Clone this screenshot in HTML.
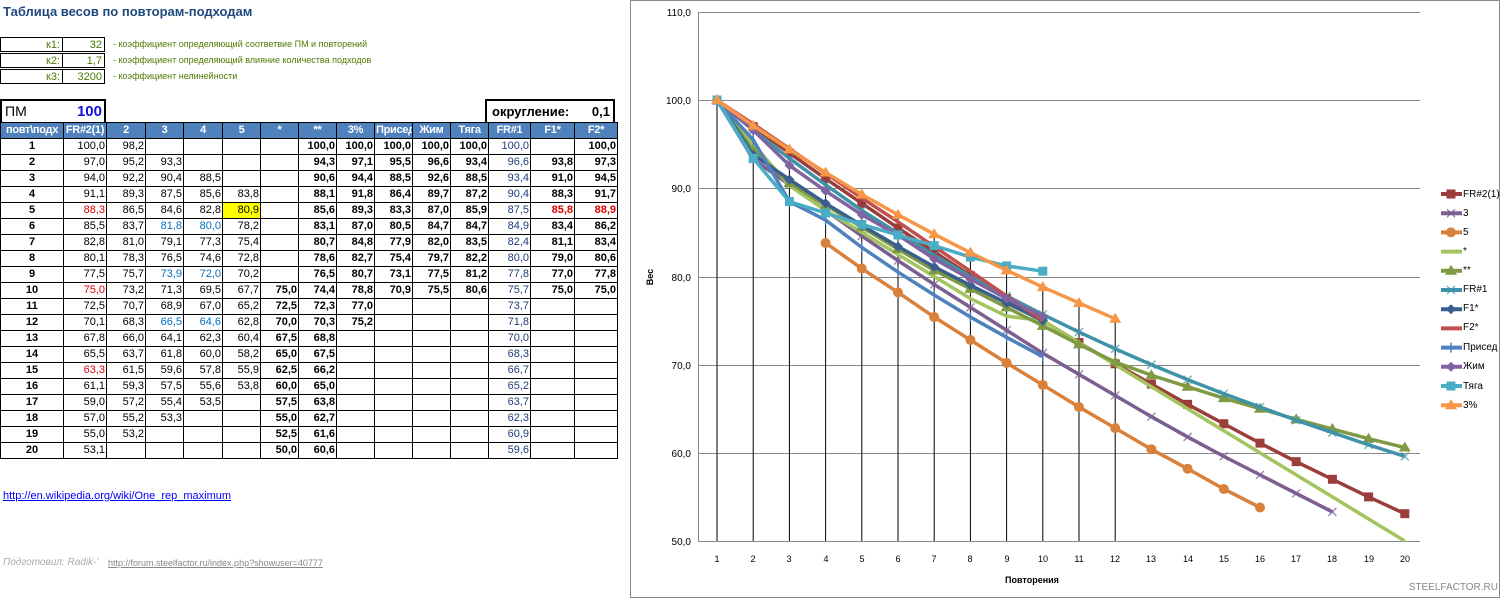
<!DOCTYPE html>
<html><head><meta charset="utf-8"><style>
body{margin:0;width:1508px;height:600px;background:#fff;position:relative;overflow:hidden;font-family:"Liberation Sans Narrow","Liberation Sans",sans-serif;}
.a{position:absolute;white-space:nowrap}
table{border-collapse:collapse;position:absolute;left:0;top:122px;table-layout:fixed;font-size:11px;width:615px}
td{border:1px solid #000;height:15px;padding:0 1px;text-align:right;line-height:15px;overflow:hidden;white-space:nowrap}
td:nth-child(1){text-align:center}
td:nth-child(1),td:nth-child(7),td:nth-child(8),td:nth-child(9),td:nth-child(10),td:nth-child(11),td:nth-child(12),td:nth-child(14),td:nth-child(15){font-weight:bold}
td:nth-child(13){color:#1f3d7a}
tr.h td{background:#4f81bd;color:#fff;font-weight:bold;text-align:center;height:14px;border-color:#000;letter-spacing:-0.3px}
.r{color:#e00000!important}.b{color:#0070c0}.y{background:#ff0}
.k{position:absolute;border:1px solid #000;height:15px;font-size:11px;line-height:15px;text-align:right;color:#4d7a00;padding-right:2px;box-sizing:border-box}
.d{position:absolute;left:113px;font-size:9px;color:#4d7a00}
</style></head><body>
<div class="a" style="left:3px;top:4px;font:bold 13px 'Liberation Sans',sans-serif;color:#1f497d">Таблица весов по повторам-подходам</div>
<div class="k" style="left:0;top:37px;width:63px">к1:</div><div class="k" style="left:62px;top:37px;width:43px">32</div>
<div class="k" style="left:0;top:53px;width:63px">к2:</div><div class="k" style="left:62px;top:53px;width:43px">1,7</div>
<div class="k" style="left:0;top:69px;width:63px">к3:</div><div class="k" style="left:62px;top:69px;width:43px">3200</div>
<div class="d" style="top:39px">- коэффициент определяющий соответвие ПМ и повторений</div>
<div class="d" style="top:55px">- коэффициент определяющий влияние количества подходов</div>
<div class="d" style="top:71px">- коэффициент нелинейности</div>
<div class="a" style="left:0;top:99px;width:102px;height:21px;border:2px solid #000;font-size:14px;line-height:21px"><span style="padding-left:3px">ПМ</span><span style="position:absolute;right:2px;color:#1010e0;font-weight:bold;font-size:15px">100</span></div>
<div class="a" style="left:485px;top:99px;width:126px;height:21px;border:2px solid #000;font-size:13px;font-weight:bold;line-height:21px"><span style="padding-left:5px">округление:</span><span style="position:absolute;right:3px">0,1</span></div>
<table>
<colgroup><col style="width:63px"><col style="width:43px"><col style="width:39px"><col style="width:38px"><col style="width:39px"><col style="width:38px"><col style="width:38px"><col style="width:38px"><col style="width:38px"><col style="width:38px"><col style="width:38px"><col style="width:38px"><col style="width:42px"><col style="width:44px"><col style="width:43px"></colgroup>
<tr class="h"><td>повт\подх</td><td>FR#2(1)</td><td>2</td><td>3</td><td>4</td><td>5</td><td>*</td><td>**</td><td>3%</td><td>Присед</td><td>Жим</td><td>Тяга</td><td>FR#1</td><td>F1*</td><td>F2*</td></tr>
<tr><td>1</td><td>100,0</td><td>98,2</td><td></td><td></td><td></td><td></td><td>100,0</td><td>100,0</td><td>100,0</td><td>100,0</td><td>100,0</td><td>100,0</td><td></td><td>100,0</td></tr>
<tr><td>2</td><td>97,0</td><td>95,2</td><td>93,3</td><td></td><td></td><td></td><td>94,3</td><td>97,1</td><td>95,5</td><td>96,6</td><td>93,4</td><td>96,6</td><td>93,8</td><td>97,3</td></tr>
<tr><td>3</td><td>94,0</td><td>92,2</td><td>90,4</td><td>88,5</td><td></td><td></td><td>90,6</td><td>94,4</td><td>88,5</td><td>92,6</td><td>88,5</td><td>93,4</td><td>91,0</td><td>94,5</td></tr>
<tr><td>4</td><td>91,1</td><td>89,3</td><td>87,5</td><td>85,6</td><td>83,8</td><td></td><td>88,1</td><td>91,8</td><td>86,4</td><td>89,7</td><td>87,2</td><td>90,4</td><td>88,3</td><td>91,7</td></tr>
<tr><td>5</td><td class="r">88,3</td><td>86,5</td><td>84,6</td><td>82,8</td><td class="y">80,9</td><td></td><td>85,6</td><td>89,3</td><td>83,3</td><td>87,0</td><td>85,9</td><td>87,5</td><td class="r">85,8</td><td class="r">88,9</td></tr>
<tr><td>6</td><td>85,5</td><td>83,7</td><td class="b">81,8</td><td class="b">80,0</td><td>78,2</td><td></td><td>83,1</td><td>87,0</td><td>80,5</td><td>84,7</td><td>84,7</td><td>84,9</td><td>83,4</td><td>86,2</td></tr>
<tr><td>7</td><td>82,8</td><td>81,0</td><td>79,1</td><td>77,3</td><td>75,4</td><td></td><td>80,7</td><td>84,8</td><td>77,9</td><td>82,0</td><td>83,5</td><td>82,4</td><td>81,1</td><td>83,4</td></tr>
<tr><td>8</td><td>80,1</td><td>78,3</td><td>76,5</td><td>74,6</td><td>72,8</td><td></td><td>78,6</td><td>82,7</td><td>75,4</td><td>79,7</td><td>82,2</td><td>80,0</td><td>79,0</td><td>80,6</td></tr>
<tr><td>9</td><td>77,5</td><td>75,7</td><td class="b">73,9</td><td class="b">72,0</td><td>70,2</td><td></td><td>76,5</td><td>80,7</td><td>73,1</td><td>77,5</td><td>81,2</td><td>77,8</td><td>77,0</td><td>77,8</td></tr>
<tr><td>10</td><td class="r">75,0</td><td>73,2</td><td>71,3</td><td>69,5</td><td>67,7</td><td>75,0</td><td>74,4</td><td>78,8</td><td>70,9</td><td>75,5</td><td>80,6</td><td>75,7</td><td>75,0</td><td>75,0</td></tr>
<tr><td>11</td><td>72,5</td><td>70,7</td><td>68,9</td><td>67,0</td><td>65,2</td><td>72,5</td><td>72,3</td><td>77,0</td><td></td><td></td><td></td><td>73,7</td><td></td><td></td></tr>
<tr><td>12</td><td>70,1</td><td>68,3</td><td class="b">66,5</td><td class="b">64,6</td><td>62,8</td><td>70,0</td><td>70,3</td><td>75,2</td><td></td><td></td><td></td><td>71,8</td><td></td><td></td></tr>
<tr><td>13</td><td>67,8</td><td>66,0</td><td>64,1</td><td>62,3</td><td>60,4</td><td>67,5</td><td>68,8</td><td></td><td></td><td></td><td></td><td>70,0</td><td></td><td></td></tr>
<tr><td>14</td><td>65,5</td><td>63,7</td><td>61,8</td><td>60,0</td><td>58,2</td><td>65,0</td><td>67,5</td><td></td><td></td><td></td><td></td><td>68,3</td><td></td><td></td></tr>
<tr><td>15</td><td class="r">63,3</td><td>61,5</td><td>59,6</td><td>57,8</td><td>55,9</td><td>62,5</td><td>66,2</td><td></td><td></td><td></td><td></td><td>66,7</td><td></td><td></td></tr>
<tr><td>16</td><td>61,1</td><td>59,3</td><td>57,5</td><td>55,6</td><td>53,8</td><td>60,0</td><td>65,0</td><td></td><td></td><td></td><td></td><td>65,2</td><td></td><td></td></tr>
<tr><td>17</td><td>59,0</td><td>57,2</td><td>55,4</td><td>53,5</td><td></td><td>57,5</td><td>63,8</td><td></td><td></td><td></td><td></td><td>63,7</td><td></td><td></td></tr>
<tr><td>18</td><td>57,0</td><td>55,2</td><td>53,3</td><td></td><td></td><td>55,0</td><td>62,7</td><td></td><td></td><td></td><td></td><td>62,3</td><td></td><td></td></tr>
<tr><td>19</td><td>55,0</td><td>53,2</td><td></td><td></td><td></td><td>52,5</td><td>61,6</td><td></td><td></td><td></td><td></td><td>60,9</td><td></td><td></td></tr>
<tr><td>20</td><td>53,1</td><td></td><td></td><td></td><td></td><td>50,0</td><td>60,6</td><td></td><td></td><td></td><td></td><td>59,6</td><td></td><td></td></tr>
</table>
<div class="a" style="left:3px;top:490px;font:11px 'Liberation Sans',sans-serif;color:#00f;text-decoration:underline">http://en.wikipedia.org/wiki/One_rep_maximum</div>
<div class="a" style="left:3px;top:557px;font:italic 10px 'Liberation Sans',sans-serif;color:#aaa">Подготовил: Radik-'</div>
<div class="a" style="left:108px;top:558px;font:9px 'Liberation Sans',sans-serif;color:#888;text-decoration:underline">http://forum.steelfactor.ru/index.php?showuser=40777</div>
<svg class="a" style="left:0;top:0" width="1508" height="600" font-family="Liberation Sans, sans-serif">
<rect x="630.5" y="0.5" width="869" height="597" fill="none" stroke="#888"/>
<g stroke="#888" stroke-width="1">
<line x1="698" y1="12.5" x2="1420" y2="12.5"/><line x1="698" y1="100.5" x2="1420" y2="100.5"/><line x1="698" y1="188.5" x2="1420" y2="188.5"/><line x1="698" y1="277.5" x2="1420" y2="277.5"/><line x1="698" y1="365.5" x2="1420" y2="365.5"/><line x1="698" y1="453.5" x2="1420" y2="453.5"/><line x1="698" y1="541.5" x2="1420" y2="541.5"/><line x1="698.5" y1="12" x2="698.5" y2="541"/>
</g>
<g font-size="10" text-anchor="end" fill="#000"><text x="691" y="16">110,0</text><text x="691" y="104">100,0</text><text x="691" y="192">90,0</text><text x="691" y="281">80,0</text><text x="691" y="369">70,0</text><text x="691" y="457">60,0</text><text x="691" y="545">50,0</text></g>
<g font-size="9" text-anchor="middle"><text x="717" y="562">1</text><text x="753" y="562">2</text><text x="789" y="562">3</text><text x="826" y="562">4</text><text x="862" y="562">5</text><text x="898" y="562">6</text><text x="934" y="562">7</text><text x="970" y="562">8</text><text x="1007" y="562">9</text><text x="1043" y="562">10</text><text x="1079" y="562">11</text><text x="1115" y="562">12</text><text x="1151" y="562">13</text><text x="1188" y="562">14</text><text x="1224" y="562">15</text><text x="1260" y="562">16</text><text x="1296" y="562">17</text><text x="1332" y="562">18</text><text x="1369" y="562">19</text><text x="1405" y="562">20</text></g>
<text x="1032" y="583" font-size="9" font-weight="bold" text-anchor="middle">Повторения</text>
<text x="653" y="277" font-size="9" font-weight="bold" text-anchor="middle" transform="rotate(-90 653 277)">Вес</text>
<text x="1498" y="590" font-size="10" fill="#888" text-anchor="end">STEELFACTOR.RU</text>
<g id="s"></g>
<g font-size="10" fill="#000"><text x="1463" y="197">FR#2(1)</text><text x="1463" y="216">3</text><text x="1463" y="235">5</text><text x="1463" y="254">*</text><text x="1463" y="273">**</text><text x="1463" y="292">FR#1</text><text x="1463" y="311">F1*</text><text x="1463" y="330">F2*</text><text x="1463" y="350">Присед</text><text x="1463" y="369">Жим</text><text x="1463" y="389">Тяга</text><text x="1463" y="408">3%</text></g>
</svg>
<script>
var S=[
["#9b3d3b","sq",1,[100,97,94,91.1,88.3,85.5,82.8,80.1,77.5,75,72.5,70.1,67.8,65.5,63.3,61.1,59,57,55,53.1]],
["#7a5f90","x",1,[100,93.3,90.4,87.5,84.6,81.8,79.1,76.5,73.9,71.3,68.9,66.5,64.1,61.8,59.6,57.5,55.4,53.3]],
["#d9803b","c",4,[83.8,80.9,78.2,75.4,72.8,70.2,67.7,65.2,62.8,60.4,58.2,55.9,53.8]],
["#a3c45f","n",1,[100,95,90.3,87.5,85,82.5,80,77.5,75.5,75,72.5,70,67.5,65,62.5,60,57.5,55,52.5,50]],
["#7f9a42","t",1,[100,94.3,90.6,88.1,85.6,83.1,80.7,78.6,76.5,74.4,72.3,70.3,68.8,67.5,66.2,65,63.8,62.7,61.6,60.6]],
["#3f93a8","x",1,[100,96.6,93.4,90.4,87.5,84.9,82.4,80,77.8,75.7,73.7,71.8,70,68.3,66.7,65.2,63.7,62.3,60.9,59.6]],
["#3a5f8f","d",1,[100,93.8,91,88.3,85.8,83.4,81.1,79,77,75]],
["#c0504d","n",1,[100,97.3,94.5,91.7,88.9,86.2,83.4,80.6,77.8,75]],
["#4f81bd","p",1,[100,95.5,88.5,86.4,83.3,80.5,77.9,75.4,73.1,70.9]],
["#8064a2","d",1,[100,96.6,92.6,89.7,87,84.7,82,79.7,77.5,75.5]],
["#4bacc6","sq",1,[100,93.4,88.5,87.2,85.9,84.7,83.5,82.2,81.2,80.6]],
["#f79646","t",1,[100,97.1,94.4,91.8,89.3,87,84.8,82.7,80.7,78.8,77,75.2]]];
function X(i){return 717+(i-1)*36.2}function Y(v){return 541-(v-50)*8.817}
var h="",d=S[11][3];
for(var i=0;i<d.length;i++)h+='<line x1="'+X(i+1)+'" y1="'+Y(d[i])+'" x2="'+X(i+1)+'" y2="541" stroke="#000" stroke-width="1"/>';
function mk(m,x,y,c){var r=4.5;
if(m=="sq")return '<rect x="'+(x-r)+'" y="'+(y-r)+'" width="9" height="9" fill="'+c+'"/>';
if(m=="c")return '<circle cx="'+x+'" cy="'+y+'" r="5" fill="'+c+'"/>';
if(m=="t")return '<path d="M'+x+' '+(y-6)+'L'+(x+6)+' '+(y+4)+'L'+(x-6)+' '+(y+4)+'Z" fill="'+c+'"/>';
if(m=="d")return '<path d="M'+x+' '+(y-5)+'L'+(x+5)+' '+y+'L'+x+' '+(y+5)+'L'+(x-5)+' '+y+'Z" fill="'+c+'"/>';
if(m=="x")return '<path d="M'+(x-4)+' '+(y-4)+'L'+(x+4)+' '+(y+4)+'M'+(x+4)+' '+(y-4)+'L'+(x-4)+' '+(y+4)+'" stroke="'+c+'" stroke-width="1.5" opacity=".7"/>';
if(m=="p")return '<path d="M'+x+' '+(y-5)+'V'+(y+5)+'" stroke="'+c+'" stroke-width="1.5"/>';
return ""}
S.forEach(function(s,k){var c=s[0],p=[],m="";s[3].forEach(function(v,j){var x=X(s[2]+j),y=Y(v);p.push(x+","+y);m+=mk(s[1],x,y,c)});
h+='<polyline points="'+p.join(" ")+'" fill="none" stroke="'+c+'" stroke-width="3.5" stroke-linejoin="round"/>'+m;
var ly=194+k*19.2;h+='<line x1="1441" y1="'+ly+'" x2="1462" y2="'+ly+'" stroke="'+c+'" stroke-width="4"/>'+mk(s[1],1451,ly,c);});
document.getElementById("s").innerHTML=h;
</script>
</body></html>
